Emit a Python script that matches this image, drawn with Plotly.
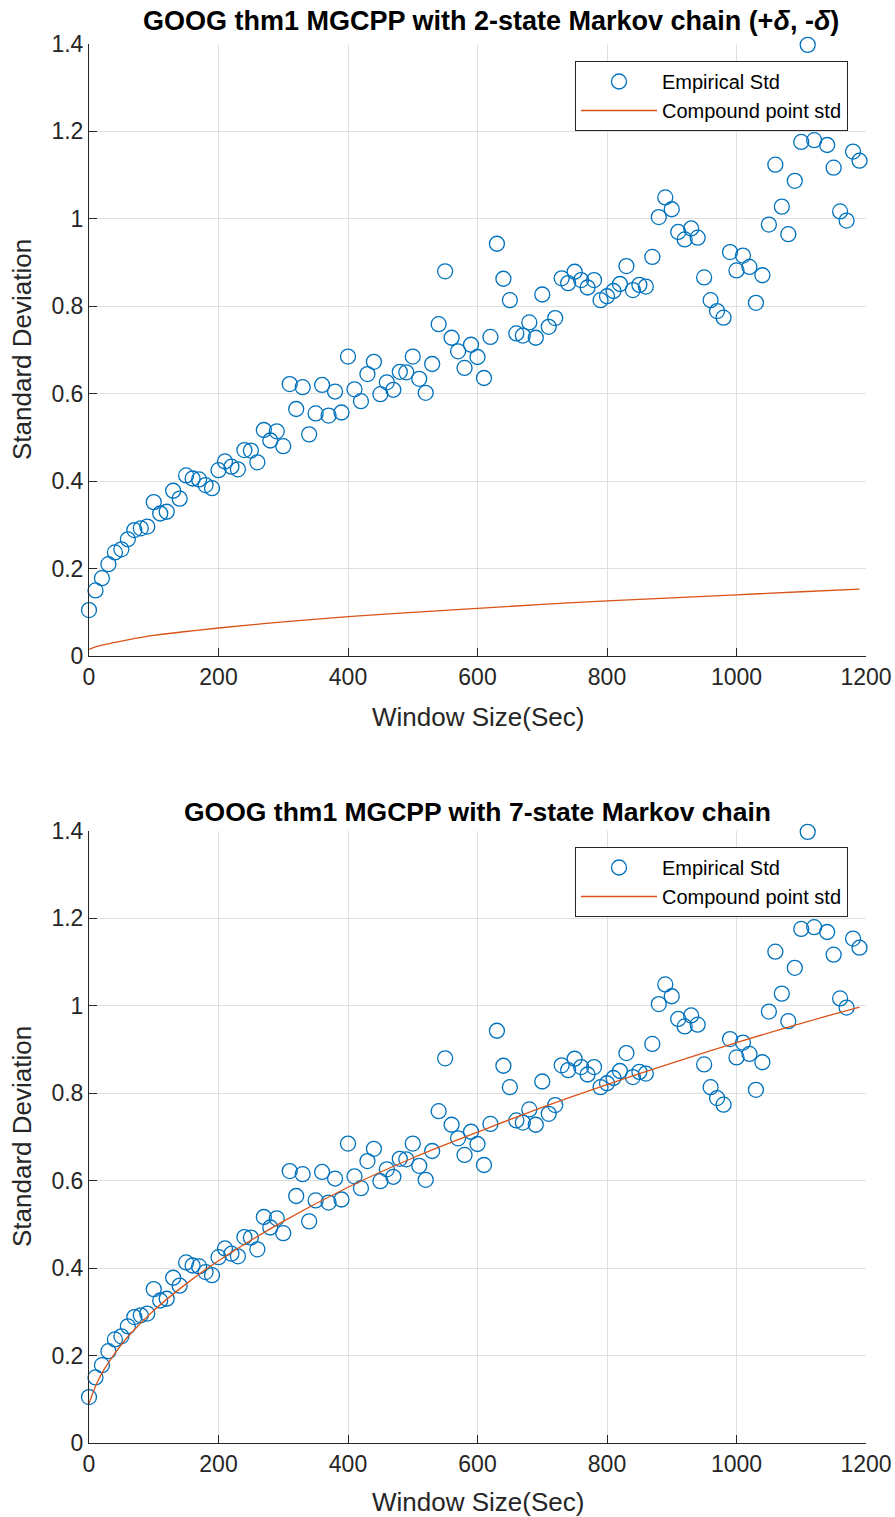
import plotly.graph_objects as go
from plotly.subplots import make_subplots

# ---------------- data ----------------
window_sec = [0, 10, 20, 30, 40, 50, 60, 70, 80, 90,
              100, 110, 120, 130, 140, 150, 160, 170, 180, 190,
              200, 210, 220, 230, 240, 250, 260, 270, 280, 290,
              300, 310, 320, 330, 340, 350, 360, 370, 380, 390,
              400, 410, 420, 430, 440, 450, 460, 470, 480, 490,
              500, 510, 520, 530, 540, 550, 560, 570, 580, 590,
              600, 610, 620, 630, 640, 650, 660, 670, 680, 690,
              700, 710, 720, 730, 740, 750, 760, 770, 780, 790,
              800, 810, 820, 830, 840, 850, 860, 870, 880, 890,
              900, 910, 920, 930, 940, 950, 960, 970, 980, 990,
              1000, 1010, 1020, 1030, 1040, 1050, 1060, 1070, 1080, 1090,
              1100, 1110, 1120, 1130, 1140, 1150, 1160, 1170, 1180, 1190]

empirical_std = [0.105, 0.150, 0.178, 0.210, 0.237, 0.244, 0.267, 0.288, 0.292, 0.296,
                 0.352, 0.326, 0.330, 0.378, 0.360, 0.413, 0.406, 0.404, 0.391, 0.384,
                 0.425, 0.445, 0.433, 0.427, 0.471, 0.470, 0.443, 0.517, 0.493, 0.514,
                 0.480, 0.622, 0.565, 0.615, 0.507, 0.555, 0.620, 0.550, 0.605, 0.557,
                 0.685, 0.610, 0.583, 0.645, 0.673, 0.599, 0.626, 0.609, 0.650, 0.649,
                 0.685, 0.634, 0.602, 0.668, 0.759, 0.880, 0.728, 0.697, 0.659, 0.712,
                 0.684, 0.636, 0.730, 0.943, 0.863, 0.814, 0.738, 0.733, 0.763, 0.728,
                 0.827, 0.753, 0.773, 0.864, 0.853, 0.879, 0.860, 0.843, 0.860, 0.814,
                 0.823, 0.835, 0.851, 0.892, 0.837, 0.849, 0.845, 0.913, 1.004, 1.049,
                 1.022, 0.970, 0.953, 0.978, 0.957, 0.866, 0.814, 0.789, 0.774, 0.924,
                 0.882, 0.916, 0.890, 0.808, 0.871, 0.987, 1.124, 1.028, 0.965, 1.087,
                 1.176, 1.398, 1.180, 1.300, 1.169, 1.117, 1.017, 0.996, 1.154, 1.133]

compound_sec = [0, 10, 20, 40, 60, 100, 150, 200, 300, 400, 500, 600, 700, 800, 900, 1000, 1100, 1190]
compound_std_2state = [0.015, 0.021, 0.025, 0.031, 0.037, 0.047, 0.056, 0.064, 0.078, 0.090,
                       0.100, 0.109, 0.118, 0.126, 0.133, 0.140, 0.147, 0.153]
compound_std_7state = [0.090, 0.130, 0.160, 0.205, 0.243, 0.303, 0.364, 0.417, 0.507, 0.585,
                       0.652, 0.711, 0.768, 0.820, 0.869, 0.916, 0.960, 0.997]

titles = ["GOOG thm1 MGCPP with 2-state Markov chain (+<i>δ</i>, -<i>δ</i>)",
          "GOOG thm1 MGCPP with 7-state Markov chain"]
x_ticks = [0, 200, 400, 600, 800, 1000, 1200]
y_ticks = [0, 0.2, 0.4, 0.6, 0.8, 1.0, 1.2, 1.4]

# ---------------- styling ----------------
BLUE = "#0072BD"
ORANGE = "#D95319"
AX = "#262626"
GRID = "#dfdfdf"
FONT = "Liberation Sans, Arial, Helvetica, sans-serif"

W, H = 895, 1517
ML, MR, MT, MB = 89, 29, 44, 74
PH = H - MT - MB


def py(p):
    return (H - MB - p) / PH


def px(p):
    return (p - ML) / (W - ML - MR)


fig = make_subplots(rows=2, cols=1, vertical_spacing=0.0)
fig.update_layout(
    yaxis=dict(domain=[py(656), py(44)]),
    yaxis2=dict(domain=[py(1443), py(831)]),
)

compounds = [compound_std_2state, compound_std_7state]
legends = ["legend", "legend2"]
for i in range(2):
    fig.add_trace(go.Scatter(
        x=window_sec, y=empirical_std, mode="markers", name="Empirical Std",
        marker=dict(symbol="circle-open", size=15, color=BLUE, line=dict(width=1.3, color=BLUE)),
        cliponaxis=False, legend=legends[i]), row=i + 1, col=1)
    fig.add_trace(go.Scatter(
        x=compound_sec, y=compounds[i], mode="lines", name="Compound point std",
        line=dict(color=ORANGE, width=1.3, shape="spline", smoothing=1.0),
        legend=legends[i]), row=i + 1, col=1)

axis_common = dict(
    showline=True, linecolor=AX, linewidth=1, mirror=False,
    ticks="inside", ticklen=8, tickwidth=1, tickcolor=AX,
    showgrid=True, gridcolor=GRID, gridwidth=1, zeroline=False,
    tickfont=dict(family=FONT, size=23, color=AX), automargin=False,
)
for i in (1, 2):
    fig.update_xaxes(range=[0, 1200], tickvals=x_ticks, row=i, col=1, **axis_common)
    fig.update_yaxes(range=[0, 1.4], tickvals=y_ticks, ticktext=[f"{v:g}" for v in y_ticks],
                     row=i, col=1, **axis_common)

leg_common = dict(
    bgcolor="white", bordercolor="#262626", borderwidth=1,
    font=dict(family=FONT, size=20, color="black"),
    xanchor="right", yanchor="top", itemwidth=76, tracegroupgap=0,
)
fig.update_layout(
    width=W, height=H,
    margin=dict(l=ML, r=MR, t=MT, b=MB, autoexpand=False),
    paper_bgcolor="white", plot_bgcolor="white",
    legend=dict(x=px(848), y=py(61), **leg_common),
    legend2=dict(x=px(848), y=py(847), **leg_common),
    font=dict(family=FONT, color=AX),
)

annotations = []
for title, ty, tx, fs in zip(titles, [21, 812], [491, 478], [27, 26.5]):
    annotations.append(dict(text=f"<b>{title}</b>", x=px(tx), y=py(ty), xref="paper", yref="paper",
                            xanchor="center", yanchor="middle", showarrow=False,
                            font=dict(family=FONT, size=fs, color="black")))
for ly in [717, 1502]:
    annotations.append(dict(text="Window Size(Sec)", x=0.5, y=py(ly), xref="paper", yref="paper",
                            xanchor="center", yanchor="middle", showarrow=False,
                            font=dict(family=FONT, size=26, color=AX)))
for ly in [350, 1137]:
    annotations.append(dict(text="Standard Deviation", x=px(22), y=py(ly), xref="paper", yref="paper",
                            xanchor="center", yanchor="middle", showarrow=False, textangle=-90,
                            font=dict(family=FONT, size=26, color=AX)))
fig.update_layout(annotations=annotations)

fig.write_html(
    "out.html",
    config={"displayModeBar": False},
    post_script="document.body.style.margin='0';document.body.style.overflow='hidden';"
                "document.documentElement.style.overflow='hidden';",
)
